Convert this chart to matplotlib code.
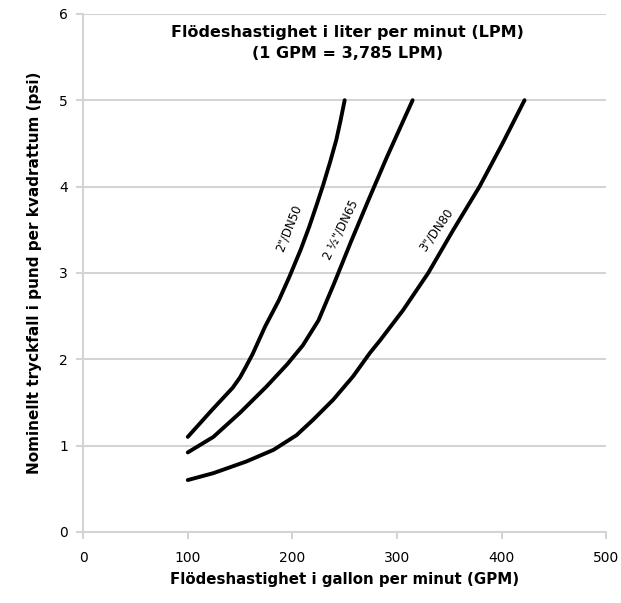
import matplotlib
matplotlib.use('Agg')
import matplotlib.pyplot as plt

plt.rcParams['font.family'] = ['Liberation Sans Narrow', 'DejaVu Sans']

# Data
gpm_dn50 = [100, 123, 143, 150, 155, 162, 174, 187, 197, 208, 216, 223, 229.5, 236, 242, 246, 250]
psi_dn50 = [1.1, 1.41, 1.67, 1.79, 1.9, 2.06, 2.38, 2.68, 2.95, 3.27, 3.53, 3.78, 4.02, 4.28, 4.54, 4.76, 5.0]

gpm_dn65 = [100, 124.5, 150, 175, 195, 210, 225, 240, 256, 273, 290, 306, 315]
psi_dn65 = [0.92, 1.1, 1.38, 1.68, 1.94, 2.16, 2.45, 2.88, 3.36, 3.85, 4.33, 4.76, 5.0]

gpm_dn80 = [100, 124.5, 156, 182, 204, 220, 239, 258, 274, 284, 306, 330, 354, 379, 401, 422]
psi_dn80 = [0.6, 0.68, 0.815, 0.95, 1.12, 1.3, 1.53, 1.8, 2.07, 2.22, 2.57, 3.0, 3.5, 4.0, 4.5, 5.0]

x_ticks = [0, 100, 200, 300, 400, 500]
y_ticks = [0, 1, 2, 3, 4, 5, 6]

grid_col = '#d4d4d4'

fig = plt.figure(figsize=(6.21, 6.03), dpi=100)
ax = fig.add_axes([0.134, 0.118, 0.842, 0.859])

for xs, ys in [(gpm_dn50, psi_dn50), (gpm_dn65, psi_dn65), (gpm_dn80, psi_dn80)]:
    ax.plot(xs, ys, color='black', lw=2.8, solid_capstyle='round',
            solid_joinstyle='round', zorder=3)

ax.set_xlim(0, 500)
ax.set_ylim(0, 6)
ax.set_xticks(x_ticks)
ax.set_yticks(y_ticks)
ax.yaxis.grid(True, color=grid_col, lw=1.5)
ax.set_axisbelow(True)
for s in ['top', 'right']:
    ax.spines[s].set_visible(False)
for s in ['left', 'bottom']:
    ax.spines[s].set_color(grid_col)
    ax.spines[s].set_linewidth(1.5)
ax.tick_params(axis='both', color=grid_col, width=1.5, length=5, labelsize=10)
ax.tick_params(axis='x', pad=9)
ax.tick_params(axis='y', pad=6)

ax.set_xlabel('Flödeshastighet i gallon per minut (GPM)', fontsize=10.8, fontweight='bold', labelpad=5)
ax.set_ylabel('Nominellt tryckfall i pund per kvadrattum (psi)', fontsize=11, fontweight='bold', labelpad=12)

ax.text(0.505, 0.978, 'Flödeshastighet i liter per minut (LPM)\n(1 GPM = 3,785 LPM)',
        transform=ax.transAxes, ha='center', va='top', fontsize=11.5, fontweight='bold',
        linespacing=1.45)

ax.text(197, 3.52, '2"/DN50', rotation=68, ha='center', va='center', fontsize=8.5)
ax.text(246, 3.5, '2 ½"/DN65', rotation=64, ha='center', va='center', fontsize=8.5)
ax.text(338, 3.5, '3"/DN80', rotation=55, ha='center', va='center', fontsize=8.5)

fig.savefig('out.png', dpi=100)
